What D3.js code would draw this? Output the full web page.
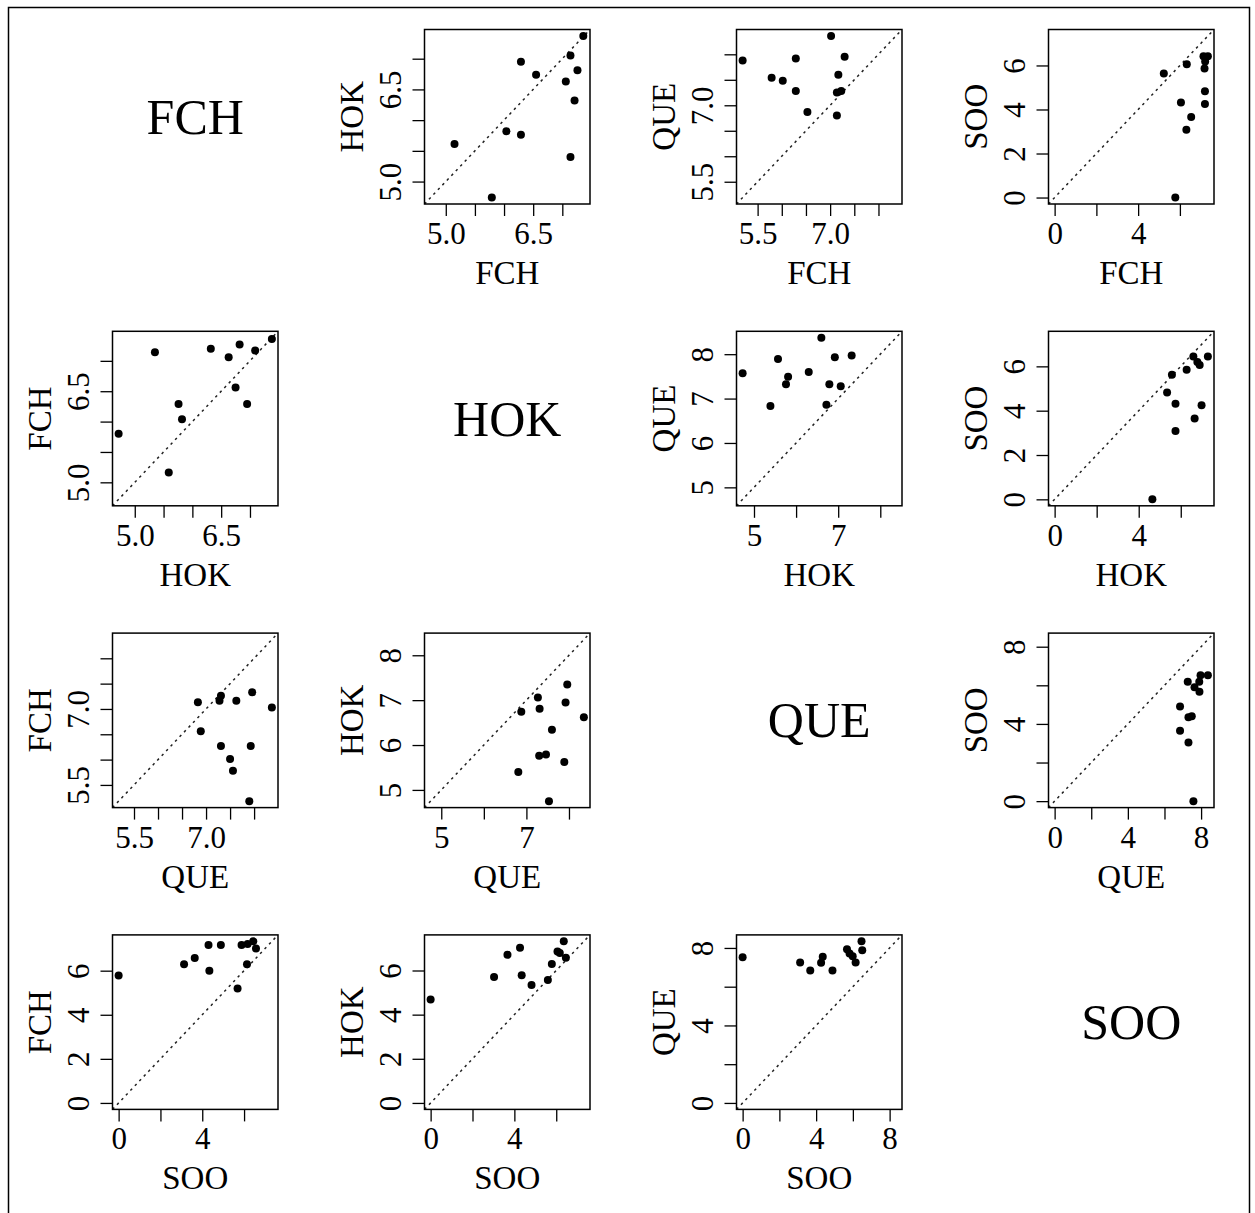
<!DOCTYPE html>
<html>
<head>
<meta charset="utf-8">
<script src="https://cdn.jsdelivr.net/npm/d3@7"></script>
<style>
body{margin:0;background:#fff;}
svg text{font-family:"Liberation Serif","Times New Roman",serif;fill:#000;}
</style>
</head>
<body>
<div id="canvas"></div>
<script>
var vars = ['FCH','HOK','QUE','SOO'];

// points, [x, y]; name is xVar_yVar
var FCH_HOK = [[7.36,7.37],[7.14,7.05],[6.29,6.95],[7.26,6.81],[6.55,6.74],[7.06,6.63],[7.21,6.32],[6.04,5.82],[6.29,5.76],[5.15,5.61],[7.14,5.40],[5.79,4.74]];
var FCH_QUE = [[7.02,8.36],[5.19,7.88],[6.29,7.92],[7.30,7.95],[5.79,7.54],[6.02,7.48],[7.17,7.60],[6.29,7.28],[7.14,7.25],[7.23,7.28],[6.53,6.87],[7.14,6.80]];
var FCH_SOO = [[5.23,5.63],[6.33,6.06],[7.13,6.42],[7.34,6.42],[7.21,6.18],[7.18,5.86],[7.20,4.83],[7.20,4.25],[6.05,4.32],[6.54,3.66],[6.31,3.08],[5.78,0.0]];
var HOK_FCH = [[7.38,7.36],[6.82,7.27],[6.32,7.20],[5.35,7.14],[7.09,7.17],[6.63,7.06],[6.75,6.56],[5.76,6.29],[6.95,6.29],[5.82,6.04],[4.72,5.80],[5.59,5.16]];
var HOK_QUE = [[6.60,8.37],[4.73,7.57],[5.57,7.89],[5.81,7.49],[5.76,7.32],[6.30,7.60],[6.92,7.93],[7.32,7.97],[6.79,7.32],[7.06,7.28],[5.39,6.83],[6.72,6.86]];
var HOK_SOO = [[5.58,5.62],[6.28,5.85],[6.60,6.45],[6.79,6.20],[6.90,6.06],[7.29,6.45],[5.35,4.82],[5.75,4.31],[6.99,4.24],[6.66,3.65],[5.75,3.08],[4.65,0.0]];
var QUE_FCH = [[6.83,7.13],[7.28,7.16],[7.31,7.26],[7.63,7.16],[7.96,7.33],[8.37,7.03],[6.89,6.56],[7.31,6.27],[7.93,6.27],[7.50,6.01],[7.56,5.78],[7.90,5.18]];
var QUE_HOK = [[6.88,6.74],[7.27,7.06],[7.31,6.81],[7.96,7.35],[7.92,6.95],[8.35,6.62],[7.60,6.34],[7.30,5.76],[7.46,5.79],[7.89,5.62],[6.81,5.40],[7.53,4.75]];
var QUE_SOO = [[8.37,6.52],[7.97,6.52],[7.90,6.18],[7.27,6.18],[7.64,5.90],[7.91,5.67],[6.85,4.90],[7.31,4.35],[7.49,4.40],[6.85,3.64],[7.31,3.04],[7.58,0.0]];
var SOO_FCH = [[0.0,5.78],[3.13,6.29],[3.64,6.58],[4.30,7.17],[4.89,7.17],[4.34,6.00],[5.88,7.17],[6.17,7.21],[6.44,7.33],[6.57,7.01],[6.14,6.29],[5.69,5.19]];
var SOO_HOK = [[0.0,4.69],[3.03,5.70],[3.67,6.71],[4.27,7.03],[4.35,5.78],[4.82,5.34],[5.60,5.57],[5.79,6.29],[6.06,6.86],[6.17,6.79],[6.46,6.58],[6.36,7.32]];
var SOO_QUE = [[0.0,7.52],[3.13,7.25],[3.68,6.84],[4.27,7.23],[4.36,7.54],[4.89,6.84],[5.68,7.93],[5.82,7.71],[5.99,7.57],[6.15,7.25],[6.47,8.34],[6.51,7.88]];

// which tick labels R kept (others dropped for overlap): [x labels, y labels]
var FCH_HOK_lab = [[5.0,6.5],[5.0,6.5]];
var FCH_QUE_lab = [[5.5,7.0],[5.5,7.0]];
var FCH_SOO_lab = [[0,4],[0,2,4,6]];
var HOK_FCH_lab = [[5.0,6.5],[5.0,6.5]];
var HOK_QUE_lab = [[5,7],[5,6,7,8]];
var HOK_SOO_lab = [[0,4],[0,2,4,6]];
var QUE_FCH_lab = [[5.5,7.0],[5.5,7.0]];
var QUE_HOK_lab = [[5,7],[5,6,7,8]];
var QUE_SOO_lab = [[0,4,8],[0,4,8]];
var SOO_FCH_lab = [[0,4],[0,2,4,6]];
var SOO_HOK_lab = [[0,4],[0,2,4,6]];
var SOO_QUE_lab = [[0,4,8],[0,4,8]];

var points = {FCH_HOK:FCH_HOK, FCH_QUE:FCH_QUE, FCH_SOO:FCH_SOO, HOK_FCH:HOK_FCH, HOK_QUE:HOK_QUE, HOK_SOO:HOK_SOO,
              QUE_FCH:QUE_FCH, QUE_HOK:QUE_HOK, QUE_SOO:QUE_SOO, SOO_FCH:SOO_FCH, SOO_HOK:SOO_HOK, SOO_QUE:SOO_QUE};
var labels = {FCH_HOK:FCH_HOK_lab, FCH_QUE:FCH_QUE_lab, FCH_SOO:FCH_SOO_lab, HOK_FCH:HOK_FCH_lab, HOK_QUE:HOK_QUE_lab, HOK_SOO:HOK_SOO_lab,
              QUE_FCH:QUE_FCH_lab, QUE_HOK:QUE_HOK_lab, QUE_SOO:QUE_SOO_lab, SOO_FCH:SOO_FCH_lab, SOO_HOK:SOO_HOK_lab, SOO_QUE:SOO_QUE_lab};

//layout of the 4x4 grid
var W = 1255, H = 1213;
var m = {l:112.5, t:29.5};
var stepX = 312, stepY = 301.8;
var w = 165.5, h = 174.5;

var svg = d3.select('#canvas')
    .append('svg')
    .attr('width',W)
    .attr('height',H);

svg.append('rect')
    .attr('x',8.5).attr('y',7.5)
    .attr('width',1241).attr('height',1230)
    .attr('fill','none')
    .attr('stroke','#000')
    .attr('stroke-width',1.5);

vars.forEach(function(xv,r){
    vars.forEach(function(yv,c){
        var g = svg.append('g')
            .attr('transform','translate(' + (m.l + c*stepX) + ',' + (m.t + r*stepY) + ')');

        if(r === c){
            g.append('text')
                .attr('x',w/2)
                .attr('y',h/2 + 17)
                .attr('text-anchor','middle')
                .style('font-size','50px')
                .text(xv);
            return;
        }

        var key = xv + '_' + yv;
        var pts = points[key];
        var lab = labels[key];

        //both axes share one range, padded 4% like R
        var ext = d3.extent(pts.reduce(function(a,p){ return a.concat(p); },[]));
        var pad = (ext[1]-ext[0])*0.04;
        var dom = [ext[0]-pad, ext[1]+pad];

        var scaleX = d3.scaleLinear().domain(dom).range([0,w]);
        var scaleY = d3.scaleLinear().domain(dom).range([h,0]);

        var ticks = scaleX.ticks(5);
        var fmt = (ticks[1]-ticks[0]) < 1 ? d3.format('.1f') : d3.format('d');

        var axisX = d3.axisBottom(scaleX)
            .tickValues(ticks)
            .tickSize(12)
            .tickPadding(6)
            .tickFormat(function(d){ return lab[0].indexOf(d) > -1 ? fmt(d) : ''; });

        var axisY = d3.axisLeft(scaleY)
            .tickValues(ticks)
            .tickSize(12)
            .tickFormat(function(d){ return lab[1].indexOf(d) > -1 ? fmt(d) : ''; });

        var gx = g.append('g')
            .attr('class','axis axis-x')
            .attr('transform','translate(0,' + h + ')')
            .call(axisX);
        var gy = g.append('g')
            .attr('class','axis axis-y')
            .call(axisY);

        [gx,gy].forEach(function(a){
            a.attr('font-family',null);
            a.select('.domain').remove();
            a.selectAll('line').attr('stroke','#000').attr('stroke-width',1.3);
            a.selectAll('text').attr('fill','#000').style('font-size','31px');
        });

        gy.selectAll('text')
            .attr('x',0)
            .attr('y',-24)
            .attr('dy',0)
            .attr('text-anchor','middle')
            .attr('transform','rotate(-90)');

        //diagonal reference line y = x
        g.append('line')
            .attr('x1',scaleX(dom[0])).attr('y1',scaleY(dom[0]))
            .attr('x2',scaleX(dom[1])).attr('y2',scaleY(dom[1]))
            .attr('stroke','#222')
            .attr('stroke-width',1.5)
            .attr('stroke-dasharray','2.5,4');

        g.selectAll('.dot')
            .data(pts)
            .enter()
            .append('circle')
            .attr('class','dot')
            .attr('cx',function(d){ return scaleX(d[0]); })
            .attr('cy',function(d){ return scaleY(d[1]); })
            .attr('r',4)
            .attr('fill','#000');

        g.append('rect')
            .attr('width',w)
            .attr('height',h)
            .attr('fill','none')
            .attr('stroke','#000')
            .attr('stroke-width',1.5);

        g.append('text')
            .attr('x',w/2)
            .attr('y',h + 80)
            .attr('text-anchor','middle')
            .style('font-size','33px')
            .text(xv);

        g.append('text')
            .attr('transform','translate(-62,' + (h/2) + ') rotate(-90)')
            .attr('text-anchor','middle')
            .style('font-size','33px')
            .text(yv);
    });
});
</script>
</body>
</html>
